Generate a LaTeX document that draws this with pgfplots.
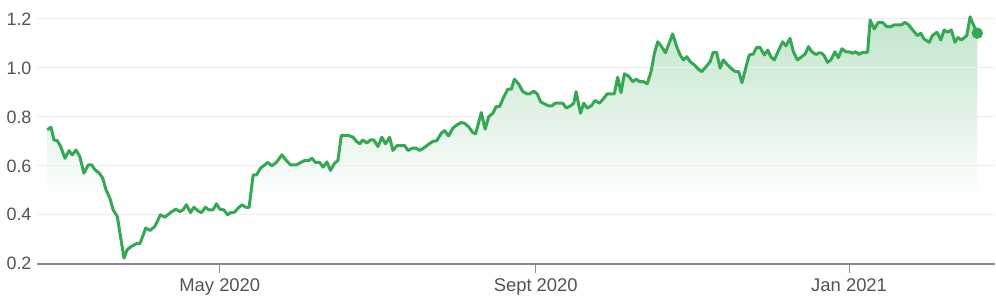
\documentclass[border=0pt]{standalone}
\usepackage{pgfplots}
\usepackage{pgfplotstable}
\pgfplotsset{compat=1.18}
\usepackage{fontspec}
\setmainfont{Liberation Sans}
\definecolor{lineg}{RGB}{52,168,83}
\definecolor{gtop}{RGB}{194,229,203}
\definecolor{gridc}{RGB}{237,237,237}
\definecolor{axc}{RGB}{135,138,142}
\definecolor{txt}{RGB}{80,84,89}
\pgfdeclareverticalshading{areafade}{100bp}{color(0bp)=(white); color(25bp)=(white); color(37.5bp)=(white); color(75bp)=(gtop); color(100bp)=(gtop)}
% x = day counted from 1 Jan 2020 (May 1 = 121, Sept 1 = 244, Jan 1 2021 = 366)
\pgfplotstableread{
d v
53.8 0.747
55.3 0.758
56.4 0.706
57.7 0.703
59.0 0.680
60.7 0.631
62.3 0.662
63.6 0.645
65.0 0.665
66.5 0.638
68.1 0.570
69.8 0.604
71.1 0.604
72.4 0.584
74.1 0.570
75.4 0.550
76.7 0.502
78.2 0.468
79.5 0.420
81.1 0.393
83.7 0.223
84.9 0.257
86.6 0.271
88.6 0.282
89.9 0.282
92.2 0.346
93.8 0.336
95.7 0.352
97.9 0.400
99.6 0.390
101.8 0.409
103.9 0.423
105.4 0.413
106.7 0.420
108.0 0.441
109.6 0.409
110.9 0.431
112.6 0.415
113.9 0.409
115.4 0.431
116.7 0.420
118.4 0.420
119.7 0.445
121.0 0.423
122.6 0.420
124.0 0.400
125.3 0.409
126.8 0.411
128.1 0.427
129.7 0.441
131.0 0.431
132.4 0.430
134.0 0.563
135.3 0.563
136.8 0.590
138.5 0.604
139.6 0.614
141.3 0.600
143.1 0.615
145.2 0.645
146.9 0.622
148.5 0.604
150.8 0.604
152.5 0.614
154.1 0.622
155.7 0.622
156.9 0.631
158.2 0.614
159.9 0.614
161.2 0.595
162.7 0.616
164.1 0.581
165.7 0.611
167.0 0.622
168.3 0.724
169.6 0.724
171.2 0.724
172.9 0.717
174.2 0.700
175.5 0.690
176.7 0.706
178.3 0.693
179.6 0.706
180.9 0.706
182.6 0.679
184.1 0.717
185.5 0.690
187.1 0.717
188.4 0.663
190.0 0.683
191.7 0.683
193.0 0.683
194.2 0.663
196.0 0.672
197.5 0.672
198.8 0.663
200.3 0.672
202.0 0.686
204.0 0.700
205.5 0.703
207.2 0.733
208.5 0.744
210.1 0.722
211.7 0.754
213.3 0.767
215.0 0.777
216.3 0.774
218.0 0.758
219.5 0.736
220.6 0.731
222.8 0.818
224.3 0.750
225.7 0.801
227.3 0.815
228.6 0.842
229.9 0.842
231.5 0.880
233.1 0.913
234.5 0.913
235.7 0.954
237.3 0.935
239.0 0.903
240.7 0.894
241.6 0.894
243.2 0.905
244.6 0.894
245.9 0.862
247.4 0.853
249.0 0.845
250.3 0.845
251.6 0.856
253.2 0.856
254.5 0.856
255.9 0.836
257.5 0.845
258.8 0.856
259.7 0.903
261.4 0.815
262.7 0.856
264.0 0.836
265.6 0.845
267.1 0.867
268.8 0.856
270.5 0.876
271.8 0.894
273.4 0.894
274.6 0.894
275.9 0.962
277.2 0.899
278.5 0.976
280.1 0.967
281.8 0.944
283.1 0.954
284.4 0.944
286.0 0.944
287.4 0.935
288.9 0.985
290.2 1.060
291.5 1.107
292.8 1.090
294.5 1.062
296.0 1.103
297.3 1.139
298.9 1.087
300.2 1.053
301.5 1.033
302.8 1.046
304.1 1.026
305.8 1.012
307.3 0.995
308.6 0.985
310.3 1.005
311.9 1.026
313.1 1.064
314.4 1.064
315.8 0.999
317.0 1.033
318.7 1.012
320.4 0.995
321.7 0.985
323.0 0.985
324.3 0.940
325.9 1.005
327.1 1.053
328.7 1.057
330.0 1.084
331.3 1.084
333.0 1.053
334.3 1.073
335.6 1.044
336.9 1.033
338.5 1.071
340.1 1.107
341.4 1.090
343.0 1.121
344.3 1.066
345.9 1.033
347.3 1.044
348.9 1.057
350.2 1.087
351.5 1.066
353.1 1.055
354.4 1.062
355.3 1.060
356.3 1.050
357.6 1.023
358.9 1.033
360.5 1.066
361.8 1.042
363.2 1.078
364.7 1.066
366.0 1.066
367.3 1.060
368.6 1.066
369.9 1.055
371.2 1.064
373.2 1.064
374.2 1.196
375.8 1.159
377.3 1.186
379.0 1.186
380.7 1.169
382.3 1.169
383.5 1.176
386.4 1.176
387.7 1.186
389.0 1.178
391.1 1.151
392.6 1.132
393.9 1.142
395.2 1.118
397.2 1.105
398.4 1.132
400.2 1.146
401.7 1.114
403.0 1.155
404.3 1.146
405.8 1.155
407.2 1.105
408.4 1.124
409.7 1.114
411.8 1.132
413.1 1.209
414.4 1.176
415.9 1.142
}\pricedata
\begin{document}
\begin{tikzpicture}
\begin{axis}[
  at={(37bp,35bp)}, anchor=south west,
  width=959bp, height=264bp, scale only axis,
  set layers,
  xmin=49.82, xmax=422.8, ymin=0.2, ymax=1.2776,
  axis x line*=bottom, axis y line*=left,
  y axis line style={draw=none},
  x axis line style={axc, line width=2bp},
  tick align=outside,
  xtick={121,244,366},
  xticklabels={May 2020, Sept 2020, Jan 2021},
  ytick={0.2,0.4,0.6,0.8,1.0,1.2},
  yticklabels={0.2,0.4,0.6,0.8,1.0,1.2},
  xtick style={axc, line width=1.2bp},
  ytick style={draw=none},
  major tick length=9bp,
  ymajorgrids,
  grid style={gridc, line width=1bp},
  xticklabel style={font=\fontsize{18.5}{20}\selectfont, text=txt, yshift=-2bp},
  yticklabel style={font=\fontsize{18}{20}\selectfont, text=txt, xshift=7bp},
  clip=false,
]
\addplot[draw=none, shading=areafade, on layer=axis background, forget plot]
  table[x=d, y=v]{\pricedata} -- (axis cs:415.9,0.2) -- (axis cs:53.8,0.2) -- cycle;
\addplot[lineg, line width=3bp, line join=round, mark=none] table[x=d, y=v]{\pricedata};
\addplot[lineg, only marks, mark=*, mark size=5.5bp] coordinates {(415.9,1.142)};
\end{axis}
\path (0,0) rectangle (996bp,299bp);
\end{tikzpicture}
\end{document}
